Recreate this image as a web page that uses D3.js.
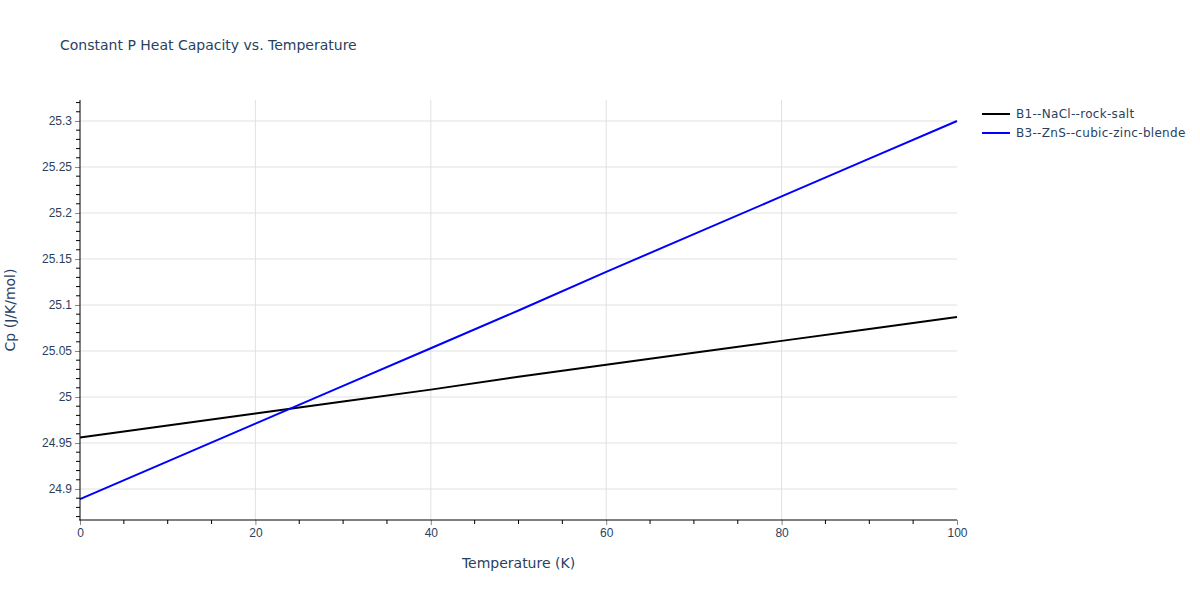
<!DOCTYPE html>
<html>
<head>
<meta charset="utf-8">
<script src="https://cdn.jsdelivr.net/npm/d3@7"></script>
<style>
    body { margin: 0; background: #fff; }
    svg { font-family: "DejaVu Sans", verdana, arial, sans-serif; }
</style>
</head>
<body>
<div id="chart"></div>
<script>
// temperatures (K) and Cp values (J/K/mol)
const temperatures = [0, 10, 20, 30, 40, 50, 60, 70, 80, 90, 100];
const cpRockSalt = [24.956, 24.969, 24.982, 24.995, 25.008, 25.022, 25.035, 25.048, 25.061, 25.074, 25.087];
const cpZincBlende = [24.889, 24.930, 24.971, 25.012, 25.053, 25.094, 25.136, 25.177, 25.218, 25.259, 25.300];
const seriesNames = ['B1--NaCl--rock-salt', 'B3--ZnS--cubic-zinc-blende'];
const seriesColors = ['#000000', '#0000ff'];
const xTicks = [0, 20, 40, 60, 80, 100];
const yTicks = [24.9, 24.95, 25, 25.05, 25.1, 25.15, 25.2, 25.25, 25.3];

const width = 1200, height = 600;
const margin = { left: 80, right: 243, top: 100, bottom: 80 };
const textColor = '#2a3f5f';

const svg = d3.select('#chart').append('svg')
    .attr('width', width)
    .attr('height', height);

const x = d3.scaleLinear().domain([0, 100]).range([margin.left, width - margin.right]);
const y = d3.scaleLinear().domain([24.8663, 25.3228]).range([height - margin.bottom, margin.top]);

// gridlines
svg.append('g').selectAll('line').data(xTicks.slice(1, -1)).enter().append('line')
    .attr('x1', d => x(d)).attr('x2', d => x(d))
    .attr('y1', margin.top).attr('y2', height - margin.bottom)
    .attr('stroke', '#e1e1e1');
svg.append('g').selectAll('line').data(yTicks).enter().append('line')
    .attr('x1', margin.left).attr('x2', width - margin.right)
    .attr('y1', d => y(d)).attr('y2', d => y(d))
    .attr('stroke', '#e1e1e1');

// lines
const series = [cpRockSalt, cpZincBlende];
const line = d3.line().x((d, i) => x(temperatures[i])).y(d => y(d));
series.forEach((vals, k) => {
    svg.append('path')
        .datum(vals)
        .attr('d', line)
        .attr('fill', 'none')
        .attr('stroke', seriesColors[k])
        .attr('stroke-width', 2);
});

// x axis
const xMinor = d3.range(0, 101, 5).filter(d => d % 20 !== 0);
const gx = svg.append('g').attr('transform', `translate(0,${height - margin.bottom})`);
gx.call(d3.axisBottom(x).tickValues(xTicks).tickSize(5).tickPadding(3).tickFormat(d3.format('d')));
gx.select('.domain').remove();
gx.selectAll('.tick line').attr('stroke', '#888');
gx.selectAll('.tick text').attr('fill', textColor).style('font-size', '12px');
gx.selectAll('.minor').data(xMinor).enter().append('line')
    .attr('x1', d => x(d)).attr('x2', d => x(d))
    .attr('y1', 0).attr('y2', 4)
    .attr('stroke', '#000');
gx.append('line')
    .attr('x1', margin.left - 1).attr('x2', width - margin.right)
    .attr('stroke', '#000');

// y axis
const yMinor = d3.range(24.87, 25.325, 0.01).filter(d => Math.abs(Math.round(d * 20) - d * 20) > 1e-6);
const gy = svg.append('g').attr('transform', `translate(${margin.left},0)`);
gy.call(d3.axisLeft(y).tickValues(yTicks).tickSize(5).tickPadding(3).tickFormat(d => +d.toFixed(2)));
gy.select('.domain').remove();
gy.selectAll('.tick line').attr('stroke', '#888');
gy.selectAll('.tick text').attr('fill', textColor).style('font-size', '12px');
gy.selectAll('.minor').data(yMinor).enter().append('line')
    .attr('x1', -4).attr('x2', 0)
    .attr('y1', d => y(d)).attr('y2', d => y(d))
    .attr('stroke', '#000');
gy.append('line')
    .attr('y1', margin.top).attr('y2', height - margin.bottom)
    .attr('stroke', '#000');

// titles
svg.append('text')
    .attr('x', 60).attr('y', 50)
    .attr('fill', textColor)
    .style('font-size', '14px')
    .text('Constant P Heat Capacity vs. Temperature');

svg.append('text')
    .attr('x', (margin.left + width - margin.right) / 2).attr('y', 568)
    .attr('text-anchor', 'middle')
    .attr('fill', textColor)
    .style('font-size', '14px')
    .text('Temperature (K)');

svg.append('text')
    .attr('transform', `translate(15,${(margin.top + height - margin.bottom) / 2}) rotate(-90)`)
    .attr('text-anchor', 'middle')
    .attr('fill', textColor)
    .style('font-size', '14px')
    .text('Cp (J/K/mol)');

// legend
const legend = svg.append('g').attr('transform', 'translate(982,114)');
seriesNames.forEach((name, k) => {
    const row = legend.append('g').attr('transform', `translate(0,${k * 19})`);
    row.append('line')
        .attr('x1', 0).attr('x2', 28)
        .attr('stroke', seriesColors[k])
        .attr('stroke-width', 2);
    row.append('text')
        .attr('x', 34).attr('y', 4)
        .attr('fill', textColor)
        .style('font-size', '12px')
        .style('letter-spacing', '0.3px')
        .text(name);
});
</script>
</body>
</html>
